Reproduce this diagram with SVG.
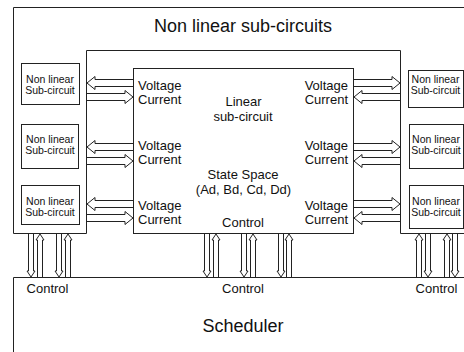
<svg xmlns="http://www.w3.org/2000/svg" width="464" height="352" viewBox="0 0 464 352">
<style>
.ln{fill:none;stroke:#222;stroke-width:1}
.ar{fill:#fff;stroke:#222;stroke-width:1}
text{font-family:"Liberation Sans",Arial,sans-serif;fill:#111}
.big{font-size:18px;text-anchor:middle}
.mid{font-size:13px}
.c{text-anchor:middle}
.e{text-anchor:end}
.sm{font-size:10.5px;text-anchor:middle}
</style>
<rect width="464" height="352" fill="#fff"/>
<g id="nonlinear-frame">
<path class="ln" d="M470 233.5 H400.5 V50.5 H86.5 V233.5 H13.5 V7.5 H470"/>
<text class="big" x="243" y="32">Non linear sub-circuits</text>
</g>
<g id="scheduler">
<path class="ln" d="M470 277.5 H13.5 V360"/>
<text class="mid c" x="47.5" y="293">Control</text>
<text class="mid c" x="243" y="293">Control</text>
<text class="mid c" x="436.5" y="293">Control</text>
<text class="big" x="243" y="332">Scheduler</text>
</g>
<g id="linear">
<rect class="ln" x="133.5" y="68.5" width="220" height="165"/>
<text class="mid c" x="243.5" y="106">Linear</text>
<text class="mid c" x="243" y="121">sub-circuit</text>
<text class="mid c" x="243" y="179">State Space</text>
<text class="mid c" x="243.5" y="194">(Ad, Bd, Cd, Dd)</text>
<text class="mid c" x="243" y="227">Control</text>
<text class="mid" x="138" y="90">Voltage</text>
<text class="mid" x="138" y="104">Current</text>
<text class="mid" x="138" y="150">Voltage</text>
<text class="mid" x="138" y="164">Current</text>
<text class="mid" x="138" y="210">Voltage</text>
<text class="mid" x="138" y="224">Current</text>
<text class="mid e" x="348" y="90">Voltage</text>
<text class="mid e" x="348" y="104">Current</text>
<text class="mid e" x="348" y="150">Voltage</text>
<text class="mid e" x="348" y="164">Current</text>
<text class="mid e" x="348" y="210">Voltage</text>
<text class="mid e" x="348" y="224">Current</text>
</g>
<g id="nl-left-1">
<rect class="ln" x="21.5" y="63.5" width="58" height="41"/>
<text class="sm" x="50" y="82.5">Non linear</text>
<text class="sm" x="50" y="93.5">Sub-circuit</text>
</g>
<g id="nl-left-2">
<rect class="ln" x="21.5" y="124.5" width="57" height="44"/>
<text class="sm" x="50" y="143">Non linear</text>
<text class="sm" x="50" y="154">Sub-circuit</text>
</g>
<g id="nl-left-3">
<rect class="ln" x="21.5" y="185.5" width="58" height="39"/>
<text class="sm" x="50" y="205">Non linear</text>
<text class="sm" x="50" y="216">Sub-circuit</text>
</g>
<g id="nl-right-1">
<rect class="ln" x="408.5" y="70.5" width="55" height="37"/>
<text class="sm" x="435.5" y="82.5">Non linear</text>
<text class="sm" x="435.5" y="93.5">Sub-circuit</text>
</g>
<g id="nl-right-2">
<rect class="ln" x="409.5" y="124.5" width="54" height="44"/>
<text class="sm" x="436" y="142.5">Non linear</text>
<text class="sm" x="436" y="153.5">Sub-circuit</text>
</g>
<g id="nl-right-3">
<rect class="ln" x="409.5" y="185.5" width="54" height="43"/>
<text class="sm" x="436" y="204.5">Non linear</text>
<text class="sm" x="436" y="215.5">Sub-circuit</text>
</g>
<g id="connectors">
<path class="ar" d="M133 79.5 H95 V76.5 L87 83 L95 89.5 V86.5 H133"/>
<path class="ar" d="M87 93.5 H125 V90.5 L133 97 L125 103.5 V100.5 H87"/>
<path class="ar" d="M133 143.5 H95 V140.5 L87 147 L95 153.5 V150.5 H133"/>
<path class="ar" d="M87 157.5 H125 V154.5 L133 161 L125 167.5 V164.5 H87"/>
<path class="ar" d="M133 200.5 H95 V197.5 L87 204 L95 210.5 V207.5 H133"/>
<path class="ar" d="M87 214.5 H125 V211.5 L133 218 L125 224.5 V221.5 H87"/>
<path class="ar" d="M354 79.5 H392 V76.5 L400 83 L392 89.5 V86.5 H354"/>
<path class="ar" d="M400 93.5 H362 V90.5 L354 97 L362 103.5 V100.5 H400"/>
<path class="ar" d="M354 143.5 H392 V140.5 L400 147 L392 153.5 V150.5 H354"/>
<path class="ar" d="M400 157.5 H362 V154.5 L354 161 L362 167.5 V164.5 H400"/>
<path class="ar" d="M354 200.5 H392 V197.5 L400 204 L392 210.5 V207.5 H354"/>
<path class="ar" d="M400 214.5 H362 V211.5 L354 218 L362 224.5 V221.5 H400"/>
<path class="ar" d="M28.5 234 V271 H27 L31 277 L35 271 H33.5 V234"/>
<path class="ar" d="M37.5 277 V240 H36 L40 234 L44 240 H42.5 V277"/>
<path class="ar" d="M56.5 234 V271 H55 L59 277 L63 271 H61.5 V234"/>
<path class="ar" d="M65.5 277 V240 H64 L68 234 L72 240 H70.5 V277"/>
<path class="ar" d="M204.5 234 V271 H203 L207 277 L211 271 H209.5 V234"/>
<path class="ar" d="M213.5 277 V240 H212 L216 234 L220 240 H218.5 V277"/>
<path class="ar" d="M241.5 234 V271 H240 L244 277 L248 271 H246.5 V234"/>
<path class="ar" d="M250.5 277 V240 H249 L253 234 L257 240 H255.5 V277"/>
<path class="ar" d="M278.5 234 V271 H277 L281 277 L285 271 H283.5 V234"/>
<path class="ar" d="M286.5 277 V240 H285 L289 234 L293 240 H291.5 V277"/>
<path class="ar" d="M416.5 277 V240 H415 L419 234 L423 240 H421.5 V277"/>
<path class="ar" d="M425.5 234 V271 H424 L428 277 L432 271 H430.5 V234"/>
<path class="ar" d="M444.5 277 V240 H443 L447 234 L451 240 H449.5 V277"/>
<path class="ar" d="M452.5 234 V271 H451 L455 277 L459 271 H457.5 V234"/>
</g>
</svg>
